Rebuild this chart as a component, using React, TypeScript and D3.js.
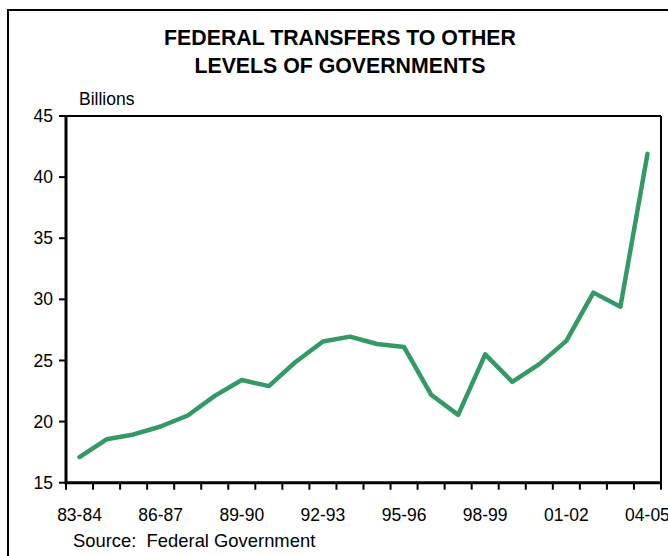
import React from "react";
import * as d3 from "d3";

const categories = [
  "83-84", "84-85", "85-86", "86-87", "87-88", "88-89", "89-90", "90-91",
  "91-92", "92-93", "93-94", "94-95", "95-96", "96-97", "97-98", "98-99",
  "99-00", "00-01", "01-02", "02-03", "03-04", "04-05",
];
const transfers = [
  17.1, 18.55, 18.95, 19.6, 20.5, 22.1, 23.4, 22.9, 24.9, 26.55, 26.95, 26.35,
  26.1, 22.2, 20.55, 25.5, 23.25, 24.7, 26.6, 30.55, 29.4, 41.9,
];
const xLabels = ["83-84", "86-87", "89-90", "92-93", "95-96", "98-99", "01-02", "04-05"];
const yTicks = [15, 20, 25, 30, 35, 40, 45];
const titleLines = ["FEDERAL TRANSFERS TO OTHER", "LEVELS OF GOVERNMENTS"];

const W = 668;
const H = 556;
const FONT = "'Liberation Sans', Arial, sans-serif";

export default function App() {
  const x = d3.scaleBand<string>().domain(categories).range([66, 661]).padding(0);
  const y = d3.scaleLinear().domain([15, 45]).range([482.7, 116]);
  const line = d3
    .line<number>()
    .x((_, i) => (x(categories[i]) as number) + x.bandwidth() / 2)
    .y((d) => y(d));
  const tickXs = categories.map((c) => x(c) as number).concat([x.range()[1]]);
  const [x0, x1] = x.range();
  const yTop = y(45);
  const yBot = y(15);

  return (
    <div style={{ position: "absolute", left: 0, top: 0 }}>
      <svg width={W} height={H} style={{ display: "block", background: "#fff" }}>
        <rect x={8} y={10} width={720} height={600} fill="none" stroke="#000" strokeWidth={2} />
        {titleLines.map((t, i) => (
          <text
            key={t}
            x={340}
            y={45 + i * 28}
            textAnchor="middle"
            fontFamily={FONT}
            fontWeight="bold"
            fontSize={21.3}
            fill="#000"
          >
            {t}
          </text>
        ))}
        <text x={79} y={105} fontFamily={FONT} fontSize={17.5} fill="#000">
          Billions
        </text>
        {/* plot box */}
        <line x1={x0} x2={x1} y1={yTop} y2={yTop} stroke="#000" strokeWidth={2} />
        <line x1={x1} x2={x1} y1={yTop} y2={yBot} stroke="#000" strokeWidth={2} />
        <line x1={x0} x2={x1 + 1} y1={yBot} y2={yBot} stroke="#000" strokeWidth={3} />
        <line x1={x0} x2={x0} y1={yTop - 1} y2={yBot + 1.5} stroke="#000" strokeWidth={3} />
        {yTicks.map((t) => (
          <g key={t}>
            <line x1={x0 - 7} x2={x0} y1={y(t)} y2={y(t)} stroke="#000" strokeWidth={2} />
            <text
              x={53}
              y={y(t)}
              dy="0.35em"
              textAnchor="end"
              fontFamily={FONT}
              fontSize={17.5}
              fill="#000"
            >
              {t}
            </text>
          </g>
        ))}
        {tickXs.map((tx, i) => (
          <line key={i} x1={tx} x2={tx} y1={yBot} y2={yBot + 7} stroke="#000" strokeWidth={2} />
        ))}
        {xLabels.map((c) => (
          <text
            key={c}
            x={(x(c) as number) + x.bandwidth() / 2}
            y={521}
            textAnchor="middle"
            fontFamily={FONT}
            fontSize={17.5}
            fill="#000"
          >
            {c}
          </text>
        ))}
        <path
          d={line(transfers) || ""}
          fill="none"
          stroke="#339966"
          strokeWidth={4.5}
          strokeLinejoin="round"
          strokeLinecap="round"
        />
        <text x={73} y={547} fontFamily={FONT} fontSize={18.4} fill="#000" xmlSpace="preserve">
          {"Source:  Federal Government"}
        </text>
      </svg>
    </div>
  );
}
